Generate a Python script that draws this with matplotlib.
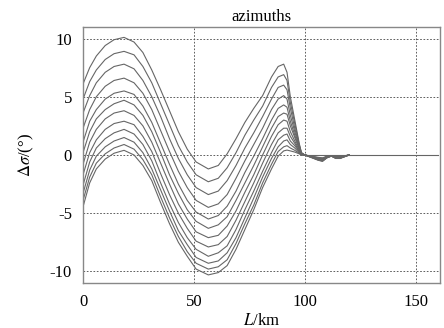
import matplotlib
matplotlib.use("Agg")
import matplotlib.pyplot as plt

plt.rcParams['font.family'] = ['Liberation Serif', 'DejaVu Serif']
plt.rcParams['mathtext.fontset'] = 'stix'

# distance along profile, km
x_km = [0, 3, 6, 10, 14, 18.5, 23, 27, 31, 35, 39, 43, 47, 51, 56.5, 61, 65, 69,
        73, 77, 81, 85, 88, 90.5, 92, 93.5, 95.5, 97.5, 98.5, 100,
        102, 104, 106, 108, 110, 112, 114, 116, 118, 120]

# one curve per azimuth, top to bottom
az01 = [6.1, 7.5, 8.5, 9.4, 9.9, 10.1, 9.7, 8.8, 7.3, 5.6, 3.8, 2.0, 0.5, -0.6, -1.2, -0.9, 0.1, 1.4,
        2.8, 4.0, 5.1, 6.7, 7.6, 7.8, 7.1, 5.0, 3.0, 1.0, 0.2, 0,
        -0.15, -0.3, -0.45, -0.55, -0.25, -0.1, -0.3, -0.3, -0.15, 0]
az02 = [4.8, 6.3, 7.3, 8.2, 8.7, 8.9, 8.6, 7.6, 6.2, 4.4, 2.6, 0.8, -0.6, -1.7, -2.3, -2.0, -1.1, 0.2,
        1.7, 3.0, 4.2, 5.8, 6.7, 6.9, 6.4, 4.5, 2.7, 0.9, 0.2, 0,
        -0.14, -0.28, -0.43, -0.52, -0.24, -0.1, -0.28, -0.28, -0.14, 0]
az03 = [3.6, 5.1, 6.2, 7.1, 7.6, 7.8, 7.4, 6.4, 5.0, 3.3, 1.4, -0.3, -1.7, -2.8, -3.4, -3.1, -2.2, -0.9,
        0.6, 1.9, 3.3, 4.8, 5.8, 6.0, 5.6, 4.0, 2.3, 0.8, 0.15, 0,
        -0.13, -0.27, -0.4, -0.5, -0.22, -0.09, -0.27, -0.27, -0.13, 0]
az04 = [2.3, 3.9, 5.0, 5.9, 6.4, 6.6, 6.2, 5.3, 3.9, 2.1, 0.3, -1.4, -2.8, -3.9, -4.5, -4.2, -3.4, -2.0,
        -0.5, 0.9, 2.3, 3.9, 4.8, 5.1, 4.8, 3.4, 2.0, 0.7, 0.15, 0,
        -0.13, -0.26, -0.38, -0.47, -0.21, -0.08, -0.26, -0.26, -0.13, 0]
az05 = [1.1, 2.9, 3.9, 4.8, 5.3, 5.5, 5.2, 4.2, 2.8, 1.0, -0.8, -2.5, -3.9, -4.9, -5.5, -5.2, -4.4, -3.1,
        -1.5, -0.1, 1.4, 3.0, 4.0, 4.3, 4.1, 2.9, 1.7, 0.6, 0.1, 0,
        -0.12, -0.24, -0.36, -0.44, -0.2, -0.08, -0.24, -0.24, -0.12, 0]
az06 = [0.2, 2.0, 3.1, 3.9, 4.4, 4.7, 4.3, 3.4, 2.0, 0.2, -1.7, -3.3, -4.7, -5.7, -6.3, -6.0, -5.3, -3.9,
        -2.4, -0.9, 0.7, 2.3, 3.3, 3.6, 3.5, 2.5, 1.5, 0.5, 0.1, 0,
        -0.11, -0.22, -0.34, -0.41, -0.19, -0.07, -0.22, -0.22, -0.11, 0]
az07 = [-0.8, 1.1, 2.2, 3.1, 3.6, 3.8, 3.4, 2.5, 1.1, -0.7, -2.5, -4.2, -5.5, -6.6, -7.1, -6.9, -6.1, -4.8,
        -3.2, -1.7, 0.0, 1.6, 2.6, 3.0, 2.9, 2.0, 1.2, 0.4, 0.1, 0,
        -0.1, -0.21, -0.32, -0.38, -0.17, -0.07, -0.21, -0.21, -0.1, 0]
az08 = [-1.7, 0.2, 1.3, 2.2, 2.7, 2.9, 2.6, 1.6, 0.3, -1.6, -3.4, -5.0, -6.3, -7.4, -7.9, -7.7, -7.0, -5.6,
        -4.0, -2.4, -0.7, 0.9, 1.9, 2.3, 2.3, 1.6, 1.0, 0.3, 0.05, 0,
        -0.1, -0.2, -0.29, -0.36, -0.16, -0.06, -0.2, -0.2, -0.1, 0]
az09 = [-2.6, -0.6, 0.6, 1.4, 1.9, 2.2, 1.8, 0.9, -0.5, -2.4, -4.2, -5.8, -7.1, -8.1, -8.7, -8.4, -7.8, -6.4,
        -4.7, -3.1, -1.4, 0.2, 1.3, 1.7, 1.8, 1.2, 0.8, 0.3, 0.05, 0,
        -0.09, -0.18, -0.27, -0.33, -0.15, -0.06, -0.18, -0.18, -0.09, 0]
az10 = [-3.3, -1.3, -0.1, 0.7, 1.2, 1.5, 1.1, 0.2, -1.2, -3.0, -4.8, -6.5, -7.7, -8.8, -9.3, -9.1, -8.4, -7.1,
        -5.4, -3.7, -1.9, -0.3, 0.7, 1.2, 1.3, 0.9, 0.6, 0.2, 0.0, 0,
        -0.08, -0.17, -0.25, -0.3, -0.14, -0.05, -0.17, -0.17, -0.08, 0]
az11 = [-3.9, -1.9, -0.7, 0.1, 0.6, 0.9, 0.5, -0.4, -1.7, -3.6, -5.4, -7.0, -8.3, -9.3, -9.8, -9.6, -9.0, -7.6,
        -5.9, -4.3, -2.4, -0.8, 0.3, 0.7, 0.8, 0.6, 0.4, 0.15, 0.0, 0,
        -0.08, -0.15, -0.23, -0.28, -0.13, -0.05, -0.15, -0.15, -0.08, 0]
az12 = [-4.45, -2.4, -1.2, -0.35, 0.15, 0.4, 0.0, -0.9, -2.2, -4.1, -5.9, -7.5, -8.7, -9.8, -10.3, -10.1, -9.5, -8.1,
        -6.4, -4.7, -2.8, -1.2, -0.1, 0.35, 0.42, 0.35, 0.25, 0.1, 0.0, 0,
        -0.07, -0.14, -0.2, -0.25, -0.11, -0.05, -0.14, -0.14, -0.07, 0]
curves = [az01, az02, az03, az04, az05, az06, az07, az08, az09, az10, az11, az12]

# flat part after the anomaly
base_x = [100, 160]
base_y = [0, 0]

xticks = [0, 50, 100, 150]
yticks = [-10, -5, 0, 5, 10]

fig = plt.figure(figsize=(4.44, 3.28), dpi=100)
ax = fig.add_axes([0.187, 0.137, 0.804, 0.781])

for c in curves:
    ax.plot(x_km, c, color='#666666', lw=0.8)
ax.plot(base_x, base_y, color='#666666', lw=0.8)

ax.set_xlim(0, 161)
ax.set_ylim(-11, 11)
ax.set_xticks(xticks)
ax.set_yticks(yticks)
ax.set_yticklabels([str(v) for v in yticks])
ax.grid(True, color='#444444', lw=0.6, linestyle=(0, (2, 2)))
ax.tick_params(length=0, labelsize=12, pad=8)
for s in ax.spines.values():
    s.set_color('#888888')
    s.set_linewidth(1.0)

ax.set_title('azimuths', fontsize=12, pad=4)
ax.set_xlabel(r'$L$/km', fontsize=12, labelpad=2)
ax.set_ylabel(r'$\Delta\sigma$/(°)', fontsize=12, labelpad=10)

fig.savefig('out.png', dpi=100)
